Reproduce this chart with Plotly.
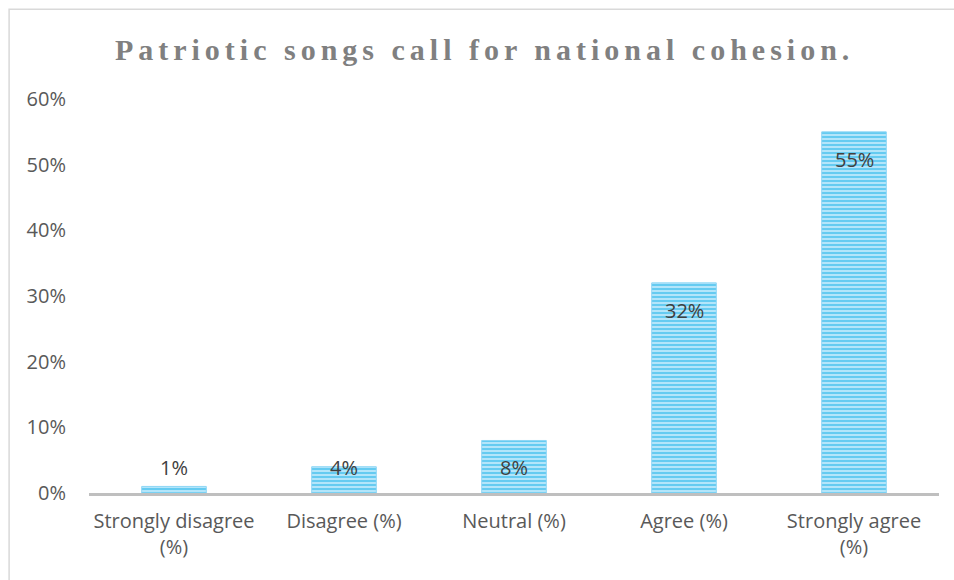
import plotly.graph_objects as go

categories = ["Strongly disagree<br>(%)", "Disagree (%)", "Neutral (%)", "Agree (%)", "Strongly agree<br>(%)"]
values = [1, 4, 8, 32, 55]
labels = ["1%", "4%", "8%", "32%", "55%"]
tick_vals = [0, 10, 20, 30, 40, 50, 60]
tick_text = ["0%", "10%", "20%", "30%", "40%", "50%", "60%"]
title_text = "Patriotic songs call for national cohesion."

fig = go.Figure()
fig.add_trace(go.Bar(
    x=categories, y=values,
    marker=dict(
        color="#B3E5FA",
        line=dict(color="#8ED6F5", width=1),
        pattern=dict(shape="-", fgcolor="#5CC8F0", bgcolor="#B3E5FA", size=4, solidity=0.45, fillmode="replace"),
    ),
    hoverinfo="skip",
))

for c, v, t in zip(categories, values, labels):
    fig.add_annotation(x=c, y=max(v - 4.25, 3.95), text=t, showarrow=False,
                       font=dict(family="Open Sans", size=20, color="#404040"))

fig.update_layout(
    width=954, height=580,
    margin=dict(l=89, r=15, t=99, b=87),
    paper_bgcolor="white", plot_bgcolor="white",
    bargap=0.62,
    showlegend=False,
    title=dict(text=title_text, x=0.508, xanchor="center", y=0.915, yanchor="middle",
               font=dict(family="Liberation Serif", size=30, color="#808080", weight="bold")),
    xaxis=dict(showline=True, linecolor="#BFBFBF", linewidth=3, ticks="", showgrid=False,
               ticklabelstandoff=8,
               tickfont=dict(family="Open Sans", size=20, color="#595959"), fixedrange=True),
    yaxis=dict(range=[0, 60], tickvals=tick_vals, ticktext=tick_text, showgrid=False, zeroline=False,
               showline=False, ticks="", ticklabelstandoff=22,
               tickfont=dict(family="Open Sans", size=20, color="#595959"), fixedrange=True),
    shapes=[dict(type="rect", xref="paper", yref="paper", x0=-0.094, x1=1.2, y0=-0.5, y1=1.228,
                 line=dict(color="#D9D9D9", width=1.5), fillcolor="rgba(0,0,0,0)", layer="below")],
)

fig.write_html("out.html", config={"displayModeBar": False},
               post_script="document.querySelectorAll('.gtitle').forEach(function(e){e.style.letterSpacing='5px';});")
